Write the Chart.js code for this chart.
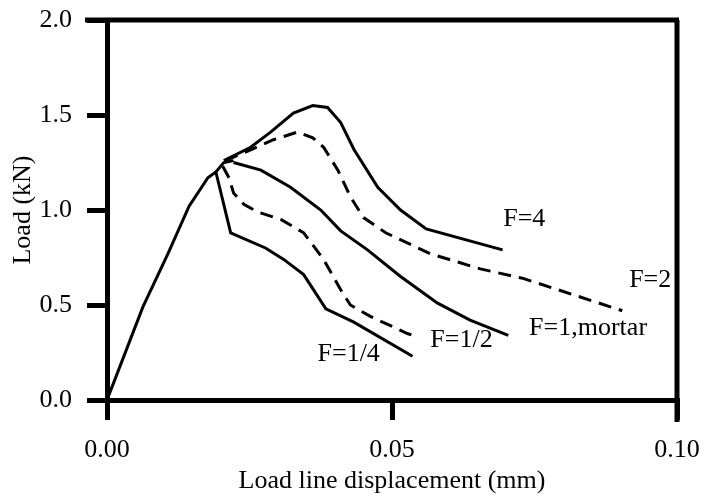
<!DOCTYPE html>
<html>
<head>
<meta charset="utf-8">
<script src="https://cdn.jsdelivr.net/npm/chart.js@4/dist/chart.umd.min.js"></script>
<style>
  html, body { margin: 0; padding: 0; background: #fff; }
  canvas { display: block; }
</style>
</head>
<body>
<canvas id="chart" width="704" height="502"></canvas>
<script>
// Load (kN) vs load line displacement (mm)
const riseX = [0, 0.0063, 0.0107, 0.0144, 0.0177, 0.0191, 0.0205, 0.0222];
const riseY = [0, 0.49, 0.77, 1.02, 1.17, 1.20, 1.25, 1.26];

const quarterX = [0.0191, 0.0217, 0.0278, 0.0310, 0.0345, 0.0384, 0.0433, 0.0536];
const quarterY = [1.20, 0.88, 0.80, 0.74, 0.66, 0.48, 0.41, 0.23];

const halfX = [0.0203, 0.0214, 0.0222, 0.0240, 0.0264, 0.0305, 0.0345, 0.0380, 0.0410, 0.0427, 0.0462, 0.0527, 0.0545];
const halfY = [1.23, 1.17, 1.09, 1.03, 0.99, 0.95, 0.88, 0.74, 0.58, 0.50, 0.44, 0.35, 0.33];

const oneX = [0.0222, 0.0270, 0.0322, 0.0375, 0.0410, 0.0457, 0.0515, 0.0580, 0.0637, 0.0704];
const oneY = [1.25, 1.21, 1.12, 1.00, 0.89, 0.79, 0.65, 0.51, 0.42, 0.34];

const twoX = [0.0208, 0.0247, 0.0292, 0.0334, 0.0361, 0.0380, 0.0405, 0.0427, 0.0450, 0.0489, 0.0567, 0.0655, 0.0730, 0.0904];
const twoY = [1.26, 1.31, 1.37, 1.41, 1.38, 1.33, 1.21, 1.07, 0.96, 0.88, 0.77, 0.69, 0.64, 0.47];

const fourX = [0.0205, 0.0252, 0.0287, 0.0327, 0.0361, 0.0387, 0.0410, 0.0433, 0.0475, 0.0515, 0.0560, 0.0694];
const fourY = [1.26, 1.33, 1.41, 1.51, 1.55, 1.54, 1.46, 1.32, 1.12, 1.00, 0.90, 0.79];

const xTicks = [0, 0.05, 0.10];
const yTicks = [0, 0.5, 1.0, 1.5, 2.0];

// curve labels, anchored in data units
const labelText = ["F=4", "F=2", "F=1,mortar", "F=1/2", "F=1/4"];
const labelX = [0.0732, 0.0953, 0.0844, 0.0622, 0.0424];
const labelY = [0.95, 0.63, 0.38, 0.315, 0.24];

const FONT = "Liberation Serif";

function pts(xs, ys) {
  return xs.map((x, i) => ({ x: x, y: ys[i] }));
}

function series(label, xs, ys, dashed) {
  return {
    label: label,
    data: pts(xs, ys),
    borderColor: "#000",
    borderWidth: 3,
    borderDash: dashed ? [13, 8] : [],
    pointRadius: 0,
    tension: 0,
    fill: false,
  };
}

// fixed axis box sizes, no extra room for overhanging tick labels
function fixBox(size, horizontal) {
  return (s) => {
    if (horizontal) s.height = size; else s.width = size;
    s.paddingTop = 0;
    s.paddingBottom = 0;
    s.paddingLeft = 0;
    s.paddingRight = 0;
  };
}

const frame = {
  id: "frame",
  afterDraw(chart) {
    const { ctx, chartArea: a, scales } = chart;
    ctx.save();
    ctx.strokeStyle = "#000";
    ctx.lineWidth = 5;
    ctx.beginPath();
    ctx.moveTo(a.left - 22, a.top);
    ctx.lineTo(a.right + 2, a.top);
    ctx.moveTo(a.right, a.top);
    ctx.lineTo(a.right, a.bottom + 22);
    ctx.stroke();

    ctx.fillStyle = "#000";
    ctx.font = "26px '" + FONT + "'";
    ctx.textAlign = "center";
    ctx.textBaseline = "middle";
    labelText.forEach((t, i) => {
      ctx.fillText(t, scales.x.getPixelForValue(labelX[i]), scales.y.getPixelForValue(labelY[i]));
    });
    ctx.restore();
  },
};

new Chart(document.getElementById("chart"), {
  type: "line",
  data: {
    datasets: [
      series("rise", riseX, riseY, false),
      series("F=1/4", quarterX, quarterY, false),
      series("F=1/2", halfX, halfY, true),
      series("F=1,mortar", oneX, oneY, false),
      series("F=2", twoX, twoY, true),
      series("F=4", fourX, fourY, false),
    ],
  },
  options: {
    responsive: false,
    animation: false,
    devicePixelRatio: 1,
    layout: { padding: { top: 20, right: 27, left: 0, bottom: 0 } },
    plugins: { legend: { display: false }, tooltip: { enabled: false } },
    scales: {
      x: {
        type: "linear",
        min: 0,
        max: 0.1,
        afterFit: fixBox(102, true),
        afterBuildTicks: (s) => { s.ticks = xTicks.map((v) => ({ value: v })); },
        ticks: {
          color: "#000",
          font: { family: FONT, size: 26 },
          padding: 15,
          callback: (v) => v.toFixed(2),
        },
        grid: { drawOnChartArea: false, tickLength: 20, lineWidth: 5, color: "#000" },
        border: { display: true, width: 5, color: "#000" },
        title: {
          display: true,
          text: "Load line displacement (mm)",
          color: "#000",
          font: { family: FONT, size: 26 },
          padding: { top: 0, bottom: 5 },
        },
      },
      y: {
        type: "linear",
        min: 0,
        max: 2,
        afterFit: fixBox(107, false),
        afterBuildTicks: (s) => { s.ticks = yTicks.map((v) => ({ value: v })); },
        ticks: {
          color: "#000",
          font: { family: FONT, size: 26 },
          padding: 15,
          callback: (v) => v.toFixed(1),
        },
        grid: { drawOnChartArea: false, tickLength: 20, lineWidth: 5, color: "#000" },
        border: { display: true, width: 5, color: "#000" },
        title: {
          display: true,
          text: "Load (kN)",
          color: "#000",
          font: { family: FONT, size: 26 },
          padding: { top: 8, bottom: 0 },
        },
      },
    },
  },
  plugins: [frame],
});
</script>
</body>
</html>
